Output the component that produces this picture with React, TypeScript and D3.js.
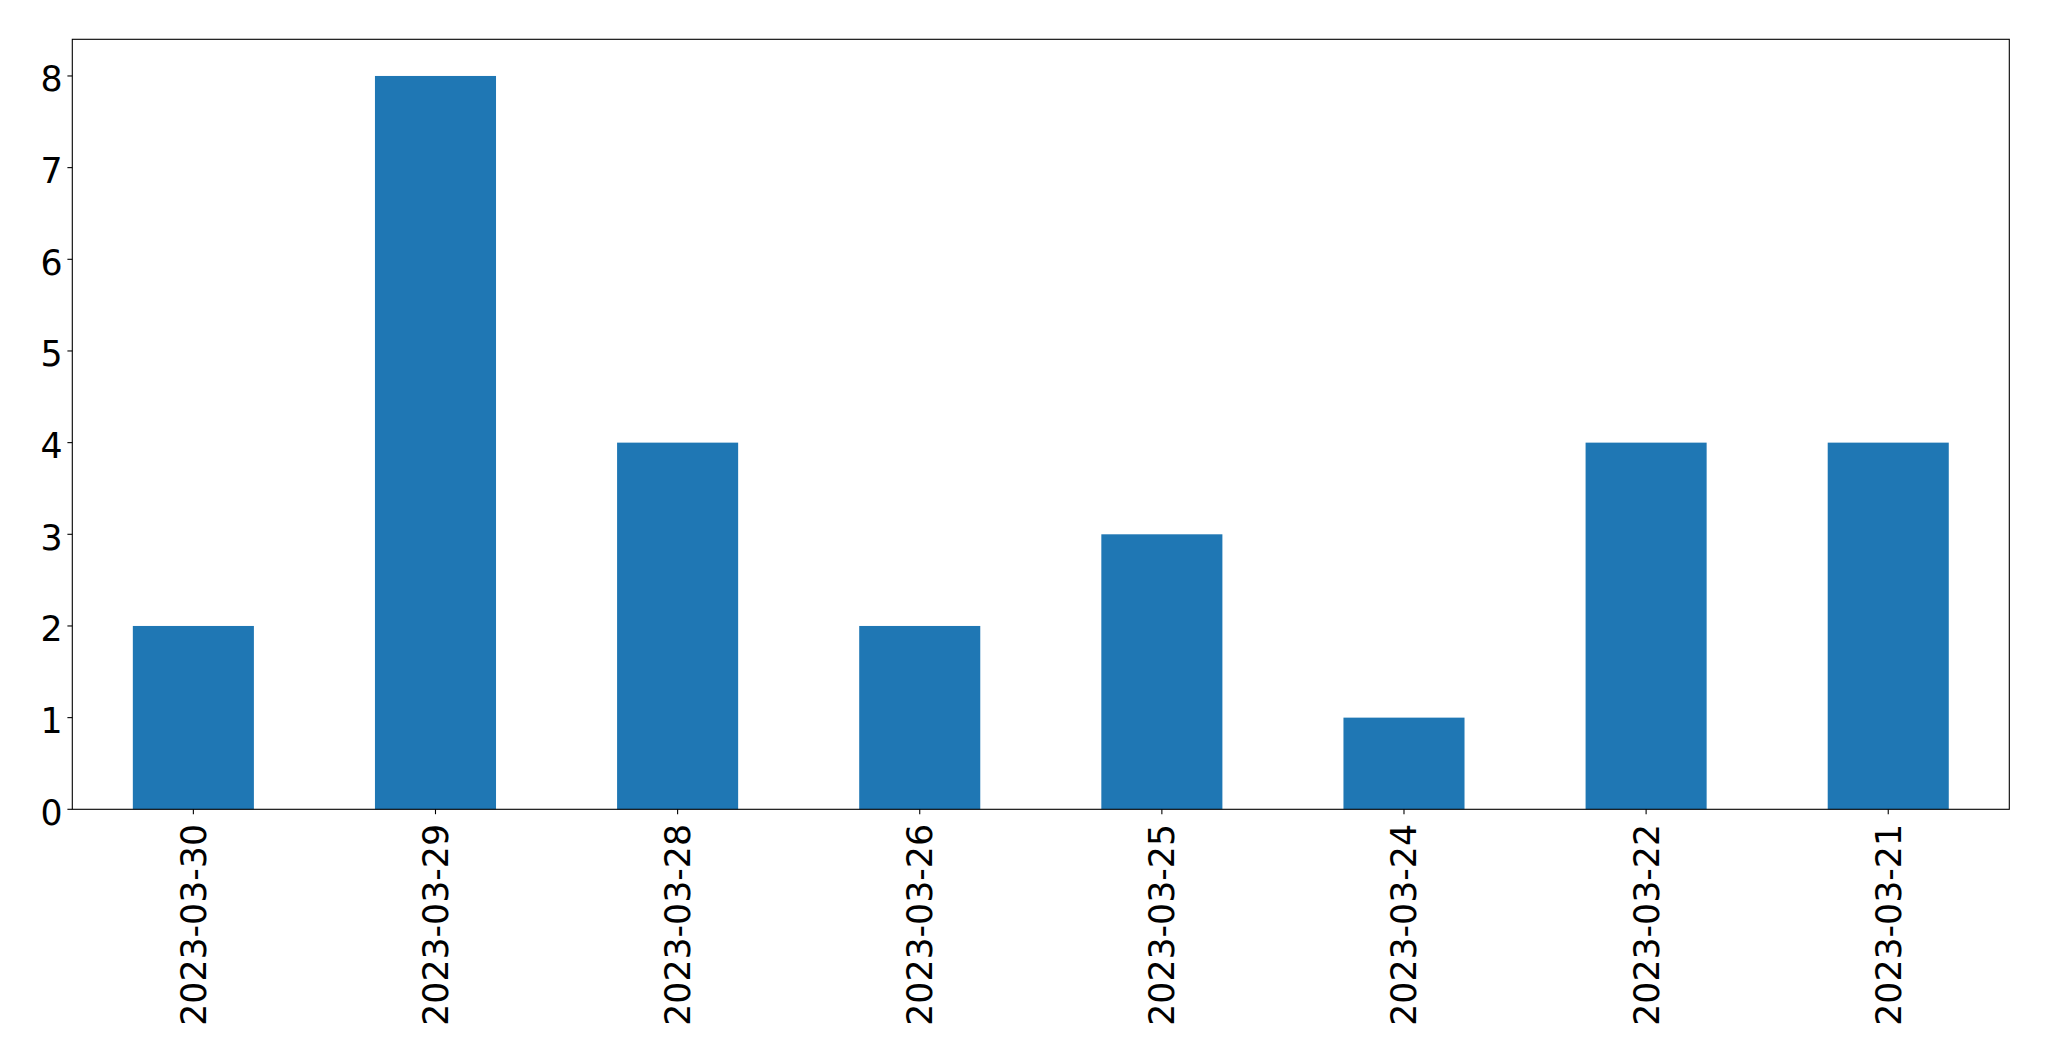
import React from "react";
import * as d3 from "d3";

const categories = ["2023-03-30", "2023-03-29", "2023-03-28", "2023-03-26", "2023-03-25", "2023-03-24", "2023-03-22", "2023-03-21"];
const values = [2, 8, 4, 2, 3, 1, 4, 4];
const yTicks = [0, 1, 2, 3, 4, 5, 6, 7, 8];

const W = 2049;
const H = 1061;
const left = 72.3;
const right = 2009.3;
const top = 39.3;
const bottom = 809.3;
const FONT = "'DejaVu Sans', sans-serif";
const FS = 34.72;

export default function App() {
  const x = d3.scaleLinear().domain([-0.5, categories.length - 0.5]).range([left, right]);
  const y = d3.scaleLinear().domain([0, 8.4]).range([bottom, top]);
  const bw = x(0.25) - x(-0.25);
  return (
    <svg width={W} height={H} style={{ position: "absolute", left: 0, top: 0, background: "#fff" }}>
      <rect x={0} y={0} width={W} height={H} fill="#fff" />
      {values.map((v, i) => (
        <rect key={i} x={x(i) - bw / 2} y={y(v)} width={bw} height={y(0) - y(v)} fill="#1f77b4" />
      ))}
      <rect x={left} y={top} width={right - left} height={bottom - top} fill="none" stroke="#000" strokeWidth={1.1} />
      {yTicks.map((t) => (
        <g key={t}>
          <line x1={left - 4.9} x2={left} y1={y(t)} y2={y(t)} stroke="#000" strokeWidth={1.1} />
          <text x={left - 9.8} y={y(t) + 15.2} textAnchor="end" fontFamily={FONT} fontSize={FS} fill="#000">
            {t}
          </text>
        </g>
      ))}
      {categories.map((c, i) => (
        <g key={c}>
          <line x1={x(i)} x2={x(i)} y1={bottom} y2={bottom + 4.9} stroke="#000" strokeWidth={1.1} />
          <text
            transform={`translate(${x(i) + 12.5},${824}) rotate(-90)`}
            textAnchor="end"
            fontFamily={FONT}
            fontSize={FS}
            fill="#000"
          >
            {c}
          </text>
        </g>
      ))}
    </svg>
  );
}
